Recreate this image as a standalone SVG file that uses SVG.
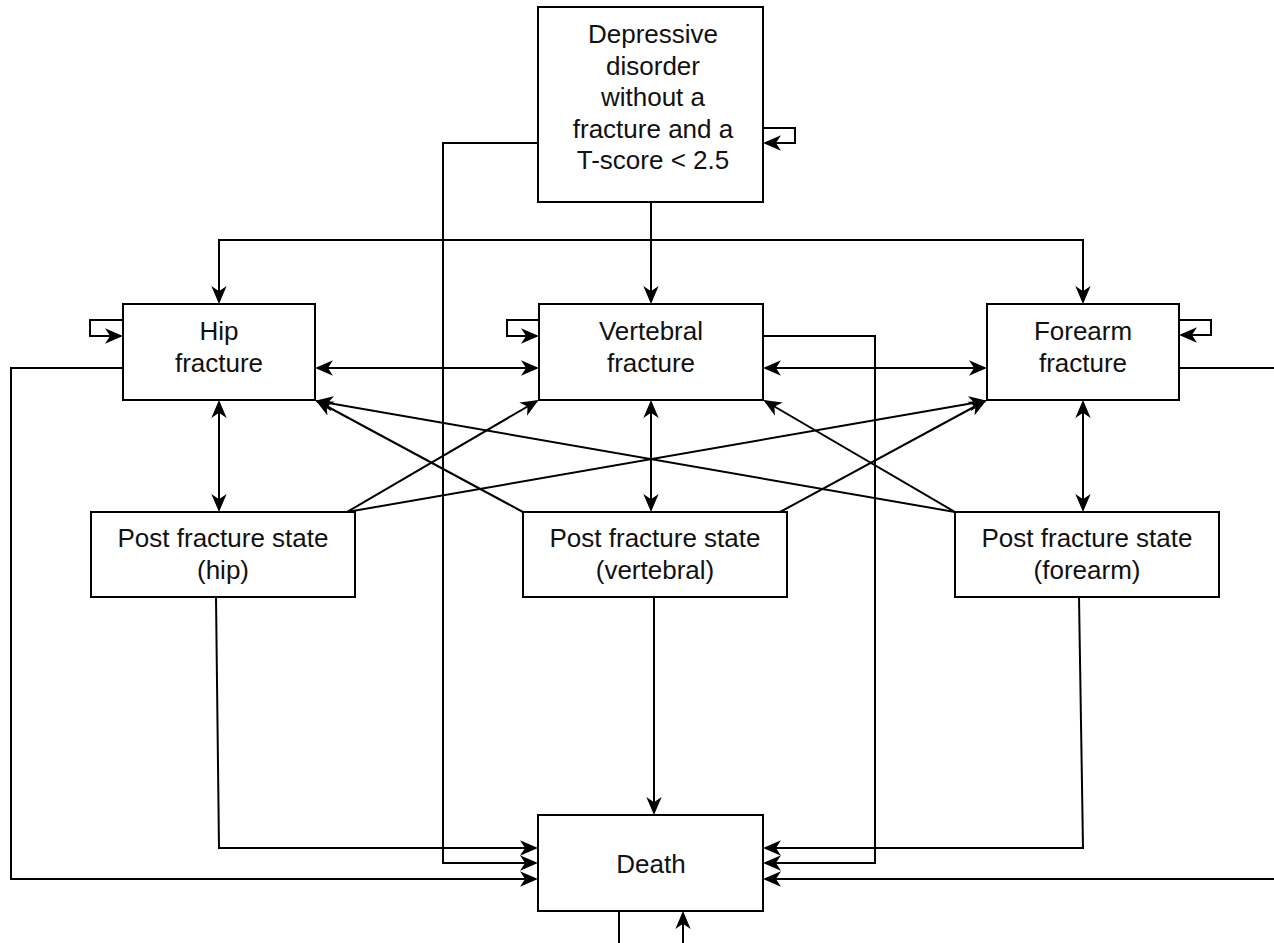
<svg xmlns="http://www.w3.org/2000/svg" width="1274" height="943" viewBox="0 0 1274 943">
<defs>
<marker id="arr" viewBox="-2 -2 18 16" refX="14" refY="6" markerWidth="18" markerHeight="16" markerUnits="userSpaceOnUse" orient="auto-start-reverse">
<path d="M0,0 L14,6 L0,12 L4,6 Z" fill="#000" stroke="#000" stroke-width="1.5" stroke-linejoin="miter"/>
</marker>
<style>
.box{fill:#fff;stroke:#000;stroke-width:2}
.t{font-family:"Liberation Sans",Arial,sans-serif;font-size:26px;fill:#111;text-anchor:middle}
.c{fill:none;stroke:#000;stroke-width:2}
.e{marker-end:url(#arr)}
.b{marker-start:url(#arr);marker-end:url(#arr)}
</style>
</defs>
<rect width="1274" height="943" fill="#fff"/>
<g id="connectors">
<path class="c e" d="M763,128 H795 V143 H765"/>
<path class="c e" d="M538,143 H443 V863 H536"/>
<path class="c e" d="M651,202 V302"/>
<path class="c e" d="M651,240 H219 V302"/>
<path class="c e" d="M651,240 H1083 V302"/>
<path class="c e" d="M123,320 H90 V336 H121"/>
<path class="c e" d="M539,320 H507 V336 H537"/>
<path class="c e" d="M1179,320 H1211 V335 H1181"/>
<path class="c b" d="M317,368 H537"/>
<path class="c b" d="M765,368 H985"/>
<path class="c b" d="M219,402 V510"/>
<path class="c b" d="M651,402 V510"/>
<path class="c b" d="M1083,402 V510"/>
<path class="c e" d="M347,512 L537,401"/>
<path class="c e" d="M347,512 L985,401"/>
<path class="c e" d="M523,512 L317,401"/>
<path class="c e" d="M955,512 L317,401"/>
<path class="c e" d="M780,512 L985,401"/>
<path class="c e" d="M955,512 L765,401"/>
<path class="c e" d="M123,368 H11 V879 H536"/>
<path class="c e" d="M763,336 H875 V863 H765"/>
<path class="c e" d="M1179,368 H1290 V879 H765"/>
<path class="c e" d="M216,597 L219,848 H536"/>
<path class="c e" d="M1079,597 L1083,848 H765"/>
<path class="c e" d="M654,597 V813"/>
<path class="c e" d="M619,911 V960 H683 V913"/>
</g>
<g id="node-depressive">
<rect class="box" x="538" y="7" width="225" height="195"/>
<text class="t" x="653" y="43">Depressive</text>
<text class="t" x="653" y="74.5">disorder</text>
<text class="t" x="653" y="106">without a</text>
<text class="t" x="653" y="137.5">fracture and a</text>
<text class="t" x="653" y="169">T-score &lt; 2.5</text>
</g>
<g id="node-hip">
<rect class="box" x="123" y="304" width="192" height="96"/>
<text class="t" x="219" y="340">Hip</text>
<text class="t" x="219" y="372">fracture</text>
</g>
<g id="node-vertebral">
<rect class="box" x="539" y="304" width="224" height="96"/>
<text class="t" x="651" y="340">Vertebral</text>
<text class="t" x="651" y="372">fracture</text>
</g>
<g id="node-forearm">
<rect class="box" x="987" y="304" width="192" height="96"/>
<text class="t" x="1083" y="340">Forearm</text>
<text class="t" x="1083" y="372">fracture</text>
</g>
<g id="node-post-hip">
<rect class="box" x="91" y="512" width="264" height="85"/>
<text class="t" x="223" y="547">Post fracture state</text>
<text class="t" x="223" y="579">(hip)</text>
</g>
<g id="node-post-vertebral">
<rect class="box" x="523" y="512" width="264" height="85"/>
<text class="t" x="655" y="547">Post fracture state</text>
<text class="t" x="655" y="579">(vertebral)</text>
</g>
<g id="node-post-forearm">
<rect class="box" x="955" y="512" width="264" height="85"/>
<text class="t" x="1087" y="547">Post fracture state</text>
<text class="t" x="1087" y="579">(forearm)</text>
</g>
<g id="node-death">
<rect class="box" x="538" y="815" width="225" height="96"/>
<text class="t" x="651" y="873">Death</text>
</g>
</svg>
